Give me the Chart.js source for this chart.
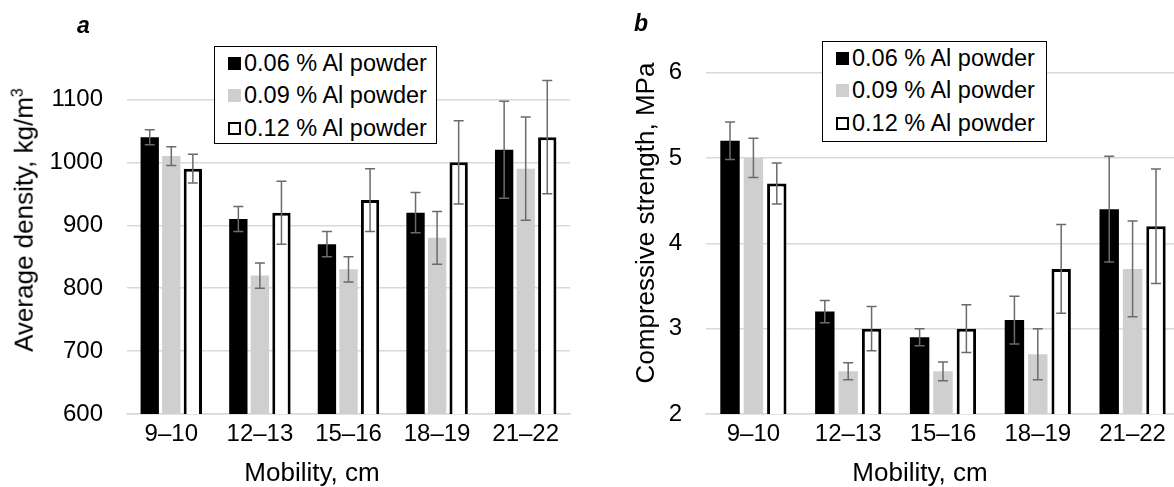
<!DOCTYPE html>
<html>
<head>
<meta charset="utf-8">
<script src="https://cdn.jsdelivr.net/npm/chart.js@4/dist/chart.umd.min.js"></script>
<style>
    html, body { margin: 0; padding: 0; background: #fff; }
    body { width: 1174px; height: 487px; position: relative; overflow: hidden; font-family: "Liberation Sans", Arial, sans-serif; color: #000; }
    canvas { position: absolute; top: 0; }
    .txt { position: absolute; white-space: nowrap; line-height: 1; }
    .ytitle { transform: translate(-50%, -50%) rotate(-90deg); font-size: 26px; }
    .xtitle { transform: translate(-50%, -50%); font-size: 26px; }
    .letter { font-weight: bold; font-style: italic; font-size: 23px; }
    .legend { position: absolute; border: 1.5px solid #000; background: #fff; box-sizing: border-box; padding: 0 0 0 13px; }
    .legend div { height: 32.5px; display: flex; align-items: center; font-size: 23.5px; white-space: nowrap; }
    .legend span.sw { display: inline-block; width: 13px; height: 13px; margin-right: 3px; box-sizing: border-box; }
</style>
</head>
<body>
<canvas id="chartA" width="590" height="487" style="left:0"></canvas>
<canvas id="chartB" width="600" height="487" style="left:590px"></canvas>

<div class="txt letter" style="left:77px; top:14px">a</div>
<div class="txt letter" style="left:634px; top:12px">b</div>

<div class="txt ytitle" style="left:23px; top:220px">Average density, kg/m<sup style="font-size:16px">3</sup></div>
<div class="txt ytitle" style="left:645px; top:223px">Compressive strength, MPa</div>
<div class="txt xtitle" style="left:312px; top:472px">Mobility, cm</div>
<div class="txt xtitle" style="left:920px; top:472px">Mobility, cm</div>

<div class="legend" id="legendA" style="left:214px; top:46px; width:223px; height:98px"></div>
<div class="legend" id="legendB" style="left:822px; top:41px; width:225px; height:101px"></div>

<script>
// categories and series
const categories = ['9–10', '12–13', '15–16', '18–19', '21–22'];
const seriesNames = ['0.06 % Al powder', '0.09 % Al powder', '0.12 % Al powder'];

// panel a: average density, kg/m3
const density006 = [1040, 910, 870, 920, 1020];
const density009 = [1010, 820, 830, 880, 990];
const density012 = [990, 920, 940, 1000, 1040];
const densityErr006 = [12, 20, 20, 32, 77];
const densityErr009 = [15, 20, 20, 42, 82];
const densityErr012 = [23, 50, 50, 66, 90];
const densityTicks = [600, 700, 800, 900, 1000, 1100];

// panel b: compressive strength, MPa
const strength006 = [5.2, 3.2, 2.9, 3.1, 4.4];
const strength009 = [5.0, 2.5, 2.5, 2.7, 3.7];
const strength012 = [4.7, 3.0, 3.0, 3.7, 4.2];
const strengthErr006 = [0.22, 0.13, 0.10, 0.28, 0.62];
const strengthErr009 = [0.23, 0.10, 0.11, 0.30, 0.56];
const strengthErr012 = [0.24, 0.26, 0.28, 0.52, 0.67];
const strengthTicks = [2, 3, 4, 5, 6];

Chart.defaults.font.family = '"Liberation Sans", Arial, sans-serif';
Chart.defaults.color = '#000';

const fills = ['#000000', '#cfcfcf', '#ffffff'];

// error bars drawn through the y scale
const errorBars = {
    id: 'errorBars',
    afterDatasetsDraw(chart) {
        const ctx = chart.ctx;
        const yScale = chart.scales.y;
        ctx.save();
        ctx.strokeStyle = '#6b6b6b';
        ctx.lineWidth = 1.5;
        chart.data.datasets.forEach((ds, i) => {
            const meta = chart.getDatasetMeta(i);
            meta.data.forEach((bar, j) => {
                const v = ds.data[j];
                const e = ds.errors[j];
                const top = yScale.getPixelForValue(v + e);
                const bot = yScale.getPixelForValue(v - e);
                const cap = 5;
                ctx.beginPath();
                ctx.moveTo(bar.x, top);
                ctx.lineTo(bar.x, bot);
                ctx.moveTo(bar.x - cap, top);
                ctx.lineTo(bar.x + cap, top);
                ctx.moveTo(bar.x - cap, bot);
                ctx.lineTo(bar.x + cap, bot);
                ctx.stroke();
            });
        });
        ctx.restore();
    }
};

function makeDatasets(values, errors) {
    return values.map((data, i) => ({
        label: seriesNames[i],
        data: data,
        errors: errors[i],
        backgroundColor: fills[i],
        borderColor: '#000',
        borderWidth: i === 2 ? 3 : 0,
    }));
}

function makeChart(canvasId, values, errors, opts) {
    const ctx = document.getElementById(canvasId).getContext('2d');
    return new Chart(ctx, {
        type: 'bar',
        data: {
            labels: categories,
            datasets: makeDatasets(values, errors),
        },
        options: {
            responsive: false,
            animation: false,
            categoryPercentage: opts.catPct,
            barPercentage: opts.barPct,
            layout: { padding: { top: opts.top, right: opts.right, left: 0, bottom: 0 } },
            plugins: { legend: { display: false }, tooltip: { enabled: false } },
            scales: {
                x: {
                    grid: { display: false, drawTicks: false },
                    border: { color: '#d9d9d9', width: 1.5 },
                    ticks: { font: { size: 24 }, padding: 6 },
                    afterFit: (s) => { s.height = 73; },
                },
                y: {
                    min: opts.min,
                    max: opts.max,
                    grid: { color: '#d9d9d9', lineWidth: 1.5, drawTicks: false },
                    border: { display: false },
                    ticks: {
                        font: { size: 24 },
                        padding: opts.tickPad,
                        callback: (v) => String(v),
                    },
                    afterBuildTicks: (s) => { s.ticks = opts.ticks.map(v => ({ value: v })); },
                    afterFit: (s) => { s.width = opts.yWidth; },
                },
            },
        },
        plugins: [errorBars],
    });
}

makeChart('chartA',
    [density006, density009, density012],
    [densityErr006, densityErr009, densityErr012],
    { min: 600, max: 1150, ticks: densityTicks, top: 68, right: 20, yWidth: 127, tickPad: 24, catPct: 0.73, barPct: 0.85 });

makeChart('chartB',
    [strength006, strength009, strength012],
    [strengthErr006, strengthErr009, strengthErr012],
    { min: 2, max: 6.4, ticks: strengthTicks, top: 31, right: 10, yWidth: 116, tickPad: 24, catPct: 0.74, barPct: 0.83 });

// legends
function buildLegend(id) {
    const box = document.getElementById(id);
    seriesNames.forEach((name, i) => {
        const row = document.createElement('div');
        const sw = document.createElement('span');
        sw.className = 'sw';
        sw.style.background = fills[i];
        if (i === 2) sw.style.border = '2.5px solid #000';
        row.appendChild(sw);
        row.appendChild(document.createTextNode(name));
        box.appendChild(row);
    });
}
buildLegend('legendA');
buildLegend('legendB');
</script>
</body>
</html>
